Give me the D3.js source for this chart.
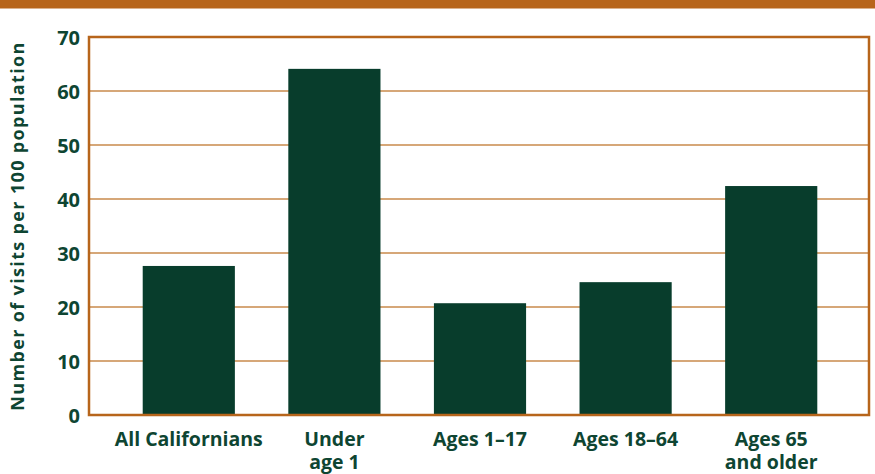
<!DOCTYPE html>
<html><head><meta charset="utf-8">
<script src="https://cdn.jsdelivr.net/npm/d3@7"></script>
<style>body{margin:0;background:#fff;}text{font-family:"Open Sans","Noto Sans",sans-serif;font-weight:700;}</style>
</head><body>
<svg id="c" width="875" height="474"></svg>
<script>
const categories = ["All Californians", "Under\nage 1", "Ages 1\u201317", "Ages 18\u201364", "Ages 65\nand older"];
const values = [27.6, 64.1, 20.7, 24.6, 42.4];
const yTicks = [0, 10, 20, 30, 40, 50, 60, 70];
const yTitle = "Number of visits per 100 population";

const svg = d3.select("#c");
const orange = "#B7651B", grid = "#C98A4B", barCol = "#083D2C", txt = "#0E4532";
const L = 89, R = 869, T = 37, B = 415;

svg.append("rect").attr("x", 0).attr("y", 0).attr("width", 875).attr("height", 8.5).attr("fill", orange);

const y = d3.scaleLinear().domain([0, 70]).range([B, T]);
const x = d3.scaleBand().domain(categories).range([116.5, 843.5]).paddingInner(0.367).paddingOuter(0.18);

// gridlines
svg.append("g").selectAll("line").data(yTicks.filter(t => t > 0 && t < 70)).join("line")
  .attr("x1", L).attr("x2", R).attr("y1", d => y(d)).attr("y2", d => y(d))
  .attr("stroke", grid).attr("stroke-width", 1.3);

// bars
svg.append("g").selectAll("rect").data(values).join("rect")
  .attr("x", (d, i) => x(categories[i])).attr("width", x.bandwidth())
  .attr("y", d => y(d)).attr("height", d => B - y(d)).attr("fill", barCol);

// frame
svg.append("rect").attr("x", L).attr("y", T).attr("width", R - L).attr("height", B - T)
  .attr("fill", "none").attr("stroke", orange).attr("stroke-width", 2.5);

// y tick labels
const yAxis = d3.axisLeft(y).tickValues(yTicks).tickSize(0).tickPadding(9);
const ya = svg.append("g").attr("transform", `translate(${L},0)`).call(yAxis);
ya.select(".domain").remove();
ya.selectAll("text").attr("font-size", 20).attr("fill", txt).attr("dy", "0.36em")
  .style("font-family", "'Open Sans','Noto Sans',sans-serif").style("font-weight", 700);

// x labels
const xa = svg.append("g");
categories.forEach(c => {
  const lines = c.split("\n");
  const t = xa.append("text").attr("x", x(c) + x.bandwidth() / 2).attr("y", 446)
    .attr("text-anchor", "middle").attr("font-size", 19.5).attr("fill", txt);
  lines.forEach((ln, j) => t.append("tspan").attr("x", x(c) + x.bandwidth() / 2).attr("dy", j ? 22.5 : 0).text(ln));
});

// y title
const yt = svg.append("text").attr("transform", "translate(24,226) rotate(-90)")
  .attr("text-anchor", "middle").attr("font-size", 18).attr("fill", txt).text(yTitle);
const len = yt.node().getComputedTextLength();
yt.attr("letter-spacing", ((368 - len) / (yTitle.length - 1)).toFixed(2) + "px");
</script>
</body></html>
